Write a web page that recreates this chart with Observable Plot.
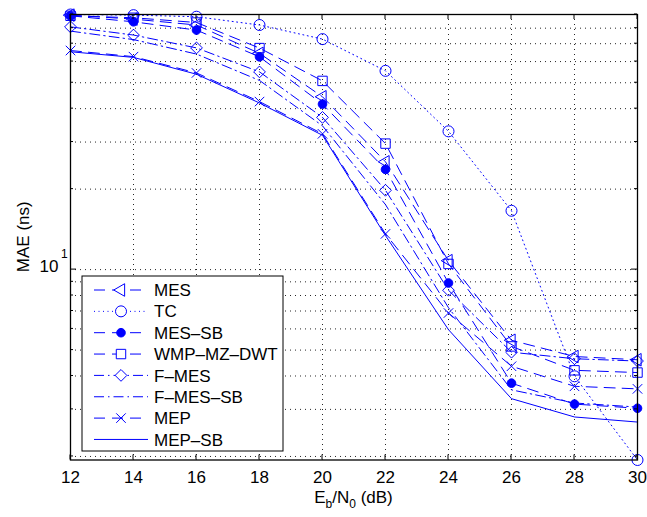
<!DOCTYPE html>
<html>
<head>
<meta charset="utf-8">
<script src="https://cdn.jsdelivr.net/npm/d3@7"></script>
<script src="https://cdn.jsdelivr.net/npm/@observablehq/plot@0.6"></script>
<style>
  body { margin: 0; background: #fff; }
  #chart { width: 647px; height: 517px; }
</style>
</head>
<body>
<div id="chart"></div>
<script>
// ---- data ----
const snr = [12, 14, 16, 18, 20, 22, 24, 26, 28, 30];           // Eb/N0 (dB)
const mes      = [89.5, 86.5, 82.2, 64.4, 44.3, 25.3, 10.8, 5.44, 4.73, 4.60];
const tc       = [90.0, 89.5, 88.3, 82.2, 72.8, 55.4, 32.9, 16.6, 3.99, 1.94];
const mesSb    = [89.0, 84.5, 78.7, 62.5, 41.6, 23.7, 8.91, 3.76, 3.14, 3.03];
const wmp      = [89.0, 87.5, 84.0, 67.4, 50.8, 29.6, 10.5, 5.16, 4.20, 4.12];
const fMes     = [80.9, 75.4, 67.5, 54.9, 37.1, 19.8, 8.37, 4.91, 4.64, 4.55];
const fMesSb   = [78.0, 72.5, 64.0, 51.0, 34.5, 17.5, 7.20, 3.55, 3.17, 3.06];
const mep      = [66.0, 62.6, 54.4, 42.5, 32.2, 13.6, 6.88, 4.35, 3.66, 3.58];
const mepSb    = [65.3, 62.2, 53.8, 42.0, 31.8, 13.4, 5.96, 3.29, 2.81, 2.69];
const seriesNames = ["MES", "TC", "MES–SB", "WMP–MZ–DWT", "F–MES", "F–MES–SB", "MEP", "MEP–SB"];
const seriesValues = [mes, tc, mesSb, wmp, fMes, fMesSb, mep, mepSb];
const xTicks = [12, 14, 16, 18, 20, 22, 24, 26, 28, 30];
const yGrid = [2, 3, 4, 5, 6, 7, 8, 9, 10, 20, 30, 40, 50, 60, 70, 80, 90];
const yMajor = [10];

// ---- styles ----
const BLUE = "#0000ff";
const DASH = "11,7", DOT = "1,3.5", DASHDOT = "10,4,1.5,4";
const styleOf = {
  "MES":        {dash: DASH,    symbol: "triangle2", r: 6,   fill: "none", rotate: -90},
  "TC":         {dash: DOT,     symbol: "circle",    r: 5.5, fill: "none", rotate: 0},
  "MES–SB":     {dash: DASH,    symbol: "circle",    r: 4.3, fill: BLUE,   rotate: 0},
  "WMP–MZ–DWT": {dash: DASH,    symbol: "square2",   r: 6,   fill: "none", rotate: 0},
  "F–MES":      {dash: DASHDOT, symbol: "diamond2",  r: 5.3, fill: "none", rotate: 0},
  "F–MES–SB":   {dash: DASHDOT, symbol: null},
  "MEP":        {dash: DASH,    symbol: "times",     r: 4.4, fill: "none", rotate: 0},
  "MEP–SB":     {dash: null,    symbol: null}
};

const rows = [];
seriesNames.forEach((name, k) => seriesValues[k].forEach((v, i) => rows.push({name, x: snr[i], y: v})));

const lineMarks = seriesNames.map(name => {
  const st = styleOf[name];
  return Plot.line(rows.filter(d => d.name === name), {
    x: "x", y: "y", stroke: BLUE, strokeWidth: 1,
    strokeDasharray: st.dash || undefined
  });
});
const dotMarks = seriesNames.filter(n => styleOf[n].symbol).map(name => {
  const st = styleOf[name];
  return Plot.dot(rows.filter(d => d.name === name), {
    x: "x", y: "y", symbol: st.symbol, r: st.r, stroke: BLUE, strokeWidth: 1,
    fill: st.fill, rotate: st.rotate
  });
});

const FONT = "'Liberation Sans', Arial, Helvetica, sans-serif";
const gridStyle = {stroke: "#000", strokeOpacity: 0.85, strokeWidth: 1, strokeDasharray: "1,4"};

const chart = Plot.plot({
  width: 647, height: 517,
  marginLeft: 70, marginRight: 10, marginTop: 14, marginBottom: 57.5,
  style: {fontFamily: FONT, fontSize: "17px", background: "white", color: "black", overflow: "visible"},
  x: {domain: [12, 30], axis: null},
  y: {type: "log", domain: [1.94, 90], axis: null},
  marks: [
    Plot.gridX(xTicks.slice(1, -1), gridStyle),
    Plot.gridY(yGrid, gridStyle),
    ...lineMarks,
    ...dotMarks,
    Plot.axisX(xTicks, {anchor: "bottom", tickSize: 0, tickPadding: 11, fontSize: 17, tickFormat: d => d, label: null, fill: "black"}),
    Plot.text(yMajor, {y: d => d, frameAnchor: "left", dx: -12, dy: -3.3, textAnchor: "end", text: () => "10", fontSize: 17, fill: "black"}),
    Plot.text(yMajor, {y: d => d, frameAnchor: "left", dx: -9.5, dy: -15.5, textAnchor: "start", text: () => "1", fontSize: 12, fill: "black"}),
    Plot.frame({stroke: "black", strokeWidth: 1.3})
  ]
});
document.getElementById("chart").appendChild(chart);

// ---- inward ticks, axis titles and legend drawn on the same svg ----
const sx = chart.scale("x").apply, sy = chart.scale("y").apply;
const svg = d3.select(chart);
const xL = sx(12), xR = sx(30), yB = sy(1.94), yT = sy(90);
const tk = svg.append("g").attr("stroke", "black").attr("stroke-width", 1);
xTicks.forEach(v => {
  tk.append("line").attr("x1", sx(v)).attr("x2", sx(v)).attr("y1", yB).attr("y2", yB - 5);
  tk.append("line").attr("x1", sx(v)).attr("x2", sx(v)).attr("y1", yT).attr("y2", yT + 5);
});
yGrid.forEach(v => {
  const len = yMajor.includes(v) ? 6 : 3;
  tk.append("line").attr("x1", xL).attr("x2", xL + len).attr("y1", sy(v)).attr("y2", sy(v));
  tk.append("line").attr("x1", xR).attr("x2", xR - len).attr("y1", sy(v)).attr("y2", sy(v));
});

// x label: Eb/N0 (dB)
const xl = svg.append("text").attr("x", (xL + xR) / 2).attr("y", 503)
  .attr("text-anchor", "middle").attr("font-family", FONT).attr("font-size", 17).attr("fill", "black");
xl.append("tspan").text("E");
xl.append("tspan").attr("font-size", 12).attr("dy", 5).text("b");
xl.append("tspan").attr("dy", -5).text("/N");
xl.append("tspan").attr("font-size", 12).attr("dy", 5).text("0");
xl.append("tspan").attr("dy", -5).text(" (dB)");

// y label
svg.append("text").attr("transform", `translate(29,${(yT + yB) / 2}) rotate(-90)`)
  .attr("text-anchor", "middle").attr("font-family", FONT).attr("font-size", 17).attr("fill", "black")
  .text("MAE (ns)");

// legend
const lg = svg.append("g").attr("text-anchor", "start");
lg.append("rect").attr("x", 82).attr("y", 276).attr("width", 201).attr("height", 175)
  .attr("fill", "white").attr("stroke", "black").attr("stroke-width", 1);
const symMap = {circle: d3.symbolCircle, triangle2: d3.symbolTriangle2, square2: d3.symbolSquare2, diamond2: d3.symbolDiamond2, times: d3.symbolTimes};
seriesNames.forEach((name, i) => {
  const st = styleOf[name];
  const yy = 290 + i * 21.35;
  lg.append("line").attr("x1", 94).attr("x2", 148).attr("y1", yy).attr("y2", yy)
    .attr("stroke", BLUE).attr("stroke-width", 1)
    .attr("stroke-dasharray", st.dash || null);
  if (st.symbol) {
    const path = d3.symbol(symMap[st.symbol], Math.PI * st.r * st.r)();
    lg.append("path").attr("d", path)
      .attr("transform", `translate(121,${yy}) rotate(${st.rotate || 0})`)
      .attr("fill", st.fill === "none" ? "white" : st.fill).attr("stroke", BLUE).attr("stroke-width", 1);
  }
  lg.append("text").attr("x", 154).attr("y", yy).attr("dy", "0.36em").attr("text-anchor", "start")
    .attr("font-family", FONT).attr("font-size", 17).attr("fill", "black").text(name);
});
</script>
</body>
</html>
